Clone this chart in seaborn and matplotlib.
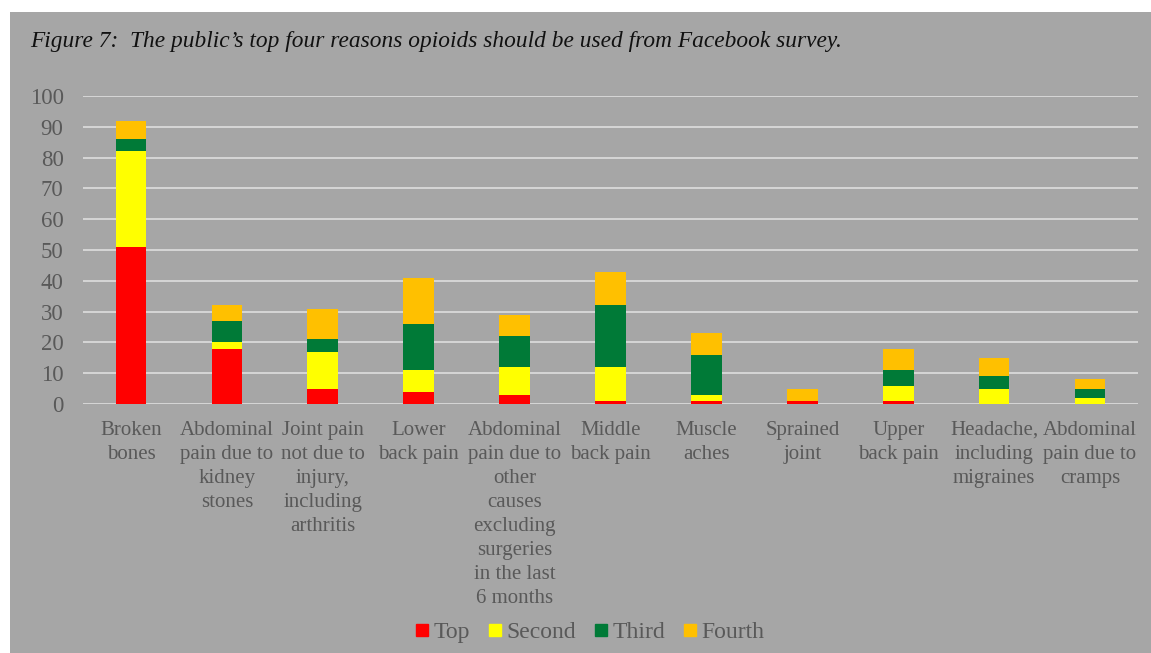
import matplotlib
matplotlib.use("Agg")
import matplotlib.pyplot as plt
from matplotlib.patches import Rectangle
from matplotlib.lines import Line2D
import numpy as np
import pandas as pd
import seaborn as sns

categories = [
    "Broken\nbones",
    "Abdominal\npain due to\nkidney\nstones",
    "Joint pain\nnot due to\ninjury,\nincluding\narthritis",
    "Lower\nback pain",
    "Abdominal\npain due to\nother\ncauses\nexcluding\nsurgeries\nin the last\n6 months",
    "Middle\nback pain",
    "Muscle\naches",
    "Sprained\njoint",
    "Upper\nback pain",
    "Headache,\nincluding\nmigraines",
    "Abdominal\npain due to\ncramps",
]
top = [51, 18, 5, 4, 3, 1, 1, 1, 1, 0, 0]
second = [31, 2, 12, 7, 9, 11, 2, 0, 5, 5, 2]
third = [4, 7, 4, 15, 10, 20, 13, 0, 5, 4, 3]
fourth = [6, 5, 10, 15, 7, 11, 7, 4, 7, 6, 3]
series_names = ["Top", "Second", "Third", "Fourth"]
colors = ["#FF0000", "#FFFF00", "#007A37", "#FFC000"]
yticks = [0, 10, 20, 30, 40, 50, 60, 70, 80, 90, 100]

BG = "#A6A6A6"
TXT = "#595959"

sns.set_theme(style="white")
plt.rcParams["font.family"] = ["Liberation Serif", "DejaVu Serif"]

df = pd.DataFrame({"cat": categories, "Top": top, "Second": second,
                   "Third": third, "Fourth": fourth})
cum = df[series_names].cumsum(axis=1)
cum["cat"] = categories

fig = plt.figure(figsize=(11.51, 6.53), dpi=100, facecolor="white")
bg = Rectangle((10 / 1151, 0), 1, (653 - 12) / 653,
               transform=fig.transFigure, facecolor=BG,
               edgecolor="none", zorder=-10)
fig.patches.append(bg)

ax = fig.add_axes([83 / 1151, 1 - 404 / 653, (1138 - 83) / 1151, (404 - 96) / 653])
ax.set_facecolor("none")

for name, col in reversed(list(zip(series_names, colors))):
    sns.barplot(data=cum, x="cat", y=name, color=col, width=0.32, ax=ax,
                saturation=1, linewidth=0, zorder=3, errorbar=None)

ax.set_ylim(0, 100)
ax.set_xlim(-0.5, len(categories) - 0.5)
ax.set_yticks(yticks)
ax.set_yticklabels([str(v) for v in yticks])
ax.yaxis.grid(True, color="#D9D9D9", linewidth=1.3, zorder=0)
ax.set_axisbelow(True)
for s in ax.spines.values():
    s.set_visible(False)
ax.tick_params(axis="y", length=0, pad=14, labelsize=16.5, labelcolor=TXT)
ax.tick_params(axis="x", length=0, pad=12, labelsize=15, labelcolor=TXT)
for lab in ax.get_xticklabels():
    lab.set_linespacing(1.36)
ax.set_xlabel("")
ax.set_ylabel("")

fig.text(30 / 1151, 1 - 42 / 653,
         "Figure 7:  The public\u2019s top four reasons opioids should be used from Facebook survey.",
         fontsize=16.8, style="italic", color="#111111", va="center", ha="left")

handles = [Line2D([0], [0], marker="s", linestyle="none", markersize=9,
                  markerfacecolor=c, markeredgecolor=c) for c in colors]
leg = fig.legend(handles, series_names, loc="center", ncol=4,
                 bbox_to_anchor=(590 / 1151, 1 - 632 / 653), frameon=False,
                 fontsize=17, handlelength=0.55, handletextpad=0.2,
                 columnspacing=0.8, borderaxespad=0)
for t in leg.get_texts():
    t.set_color(TXT)

fig.savefig("out.png", dpi=100, facecolor="white")
